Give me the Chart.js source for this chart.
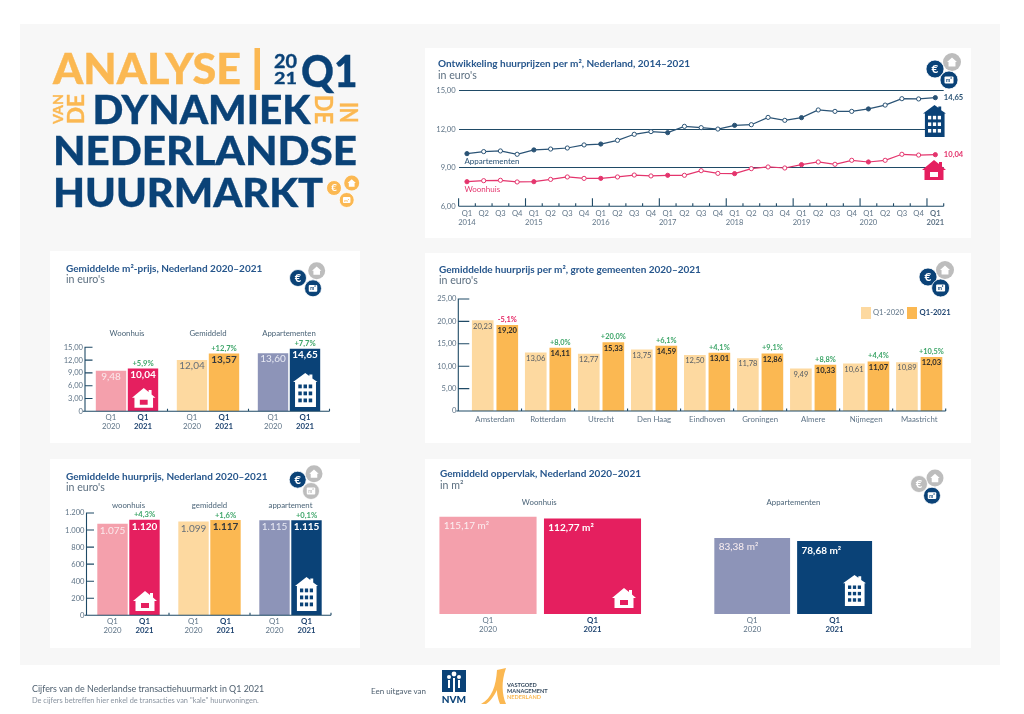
<!DOCTYPE html>
<html lang="nl"><head><meta charset="utf-8"><title>Analyse van de dynamiek in de Nederlandse huurmarkt</title>
<script src="https://cdn.jsdelivr.net/npm/chart.js@4/dist/chart.umd.min.js"></script>
<style>
html,body{margin:0;padding:0;background:#fff;width:1024px;height:714px;overflow:hidden;font-family:Lato,sans-serif}
#page{position:absolute;left:0;top:0;width:1024px;height:714px}
#bg{position:absolute;left:20px;top:24px;width:980px;height:641px;background:#f7f7f7}
.card{position:absolute;background:#fff}
canvas{position:absolute;display:block}
.t{position:absolute;white-space:nowrap;line-height:1}
.title{font-weight:700;font-size:10px;color:#26568c}
.sub{font-size:10.6px;color:#5c6f80}
svg.ic{position:absolute;overflow:visible}
</style></head><body>
<div id="page"><div id="bg"></div></div>
<script>
// ---------- data ----------
const quarterLabels=['Q1','Q2','Q3','Q4','Q1','Q2','Q3','Q4','Q1','Q2','Q3','Q4','Q1','Q2','Q3','Q4','Q1','Q2','Q3','Q4','Q1','Q2','Q3','Q4','Q1','Q2','Q3','Q4','Q1'];
const yearLabels=['2014','2015','2016','2017','2018','2019','2020','2021'];
const apartmentSeries=[10.11,10.27,10.32,10.06,10.40,10.47,10.55,10.79,10.86,11.15,11.62,11.83,11.75,12.24,12.14,12.03,12.32,12.37,12.94,12.71,12.92,13.52,13.41,13.41,13.60,13.90,14.40,14.38,14.48];
const houseSeries=[7.92,8.00,8.03,7.90,7.92,8.10,8.29,8.18,8.18,8.29,8.44,8.37,8.42,8.42,8.78,8.57,8.55,8.94,9.07,8.99,9.25,9.46,9.28,9.59,9.46,9.59,10.06,10.00,10.03];
const lineEndLabels=['14,65','10,04'];

const cityNames=['Amsterdam','Rotterdam','Utrecht','Den Haag','Eindhoven','Groningen','Almere','Nijmegen','Maastricht'];
const city2020=[20.23,13.06,12.77,13.75,12.50,11.78,9.49,10.61,10.89];
const city2021=[19.20,14.11,15.33,14.59,13.01,12.86,10.33,11.07,12.03];
const cityChange=['-5,1%','+8,0%','+20,0%','+6,1%','+4,1%','+9,1%','+8,8%','+4,4%','+10,5%'];

const sqmGroups=['Woonhuis','Gemiddeld','Appartementen'];
const sqm2020=[9.48,12.04,13.60];
const sqm2021=[10.04,13.57,14.65];
const sqmChange=['+5,9%','+12,7%','+7,7%'];

const rentGroups=['woonhuis','gemiddeld','appartement'];
const rent2020=[1075,1099,1115];
const rent2021=[1120,1117,1115];
const rentChange=['+4,3%','+1,6%','+0,1%'];

const areaGroups=['Woonhuis','Appartementen'];
const areaValues=[115.17,112.77,83.38,78.68];

// ---------- styling (not data) ----------
const C={navy:'#0a4277',red:'#e51f5f',gold:'#fbb852',pink:'#f4a0ac',tan:'#fdd9a0',lav:'#8d94b8',axis:'#1f4a66',tick:'#5f7487',line:'#2a5375',green:'#3fa66a',txt:'#4b6478',bold:'#1f4470'};
const F='Lato, sans-serif';
const page=document.getElementById('page');
const cards={line:[425,48,546,190],city:[425,253,546,190],sqm:[50,251,310,192],rent:[50,459,310,189],area:[425,459,546,189]};
function el(tag,cls,css,html){const e=document.createElement(tag);if(cls)e.className=cls;e.style.cssText=css||'';if(html!=null)e.innerHTML=html;page.appendChild(e);return e;}
function text(x,y,cls,s,extra){return el('div','t '+cls,`left:${x}px;top:${y}px;${extra||''}`,s);}
Object.values(cards).forEach(c=>el('div','card',`left:${c[0]}px;top:${c[1]}px;width:${c[2]}px;height:${c[3]}px`));

const HOUSE=(fg,w,x,y)=>`<svg class="ic" style="left:${x}px;top:${y}px" width="${w}" height="${w*0.84}" viewBox="0 0 24 20"><path fill="${fg}" fill-rule="evenodd" d="M12 0 L17 4 V2 H20 V6.5 L24 10 H21.5 V20 H2.5 V10 H0 Z M8 12 V17 H16 V12 Z"/></svg>`;
const APT=(fg,bg,w,h,x,y)=>{let win='';for(let r=0;r<3;r++)for(let c=0;c<3;c++)win+=`<rect x="${5.2+c*5.1}" y="${11.5+r*7}" width="3.4" height="3.8" fill="${bg}"/>`;
return `<svg class="ic" style="left:${x}px;top:${y}px" width="${w}" height="${h}" viewBox="0 0 24 34" preserveAspectRatio="none"><path fill="${fg}" d="M12 0 L16 3 V1.5 H19 V5.5 L24 9 H22.5 V34 H2 V9 H0 Z"/>${win}</svg>`;};
function cluster(e,h,m,r,ce,ch,cm){
 const house=`<svg class="ic" style="left:0;top:0" width="1024" height="714">
 <circle cx="${h[0]}" cy="${h[1]}" r="${r}" fill="${ch}"/><path transform="translate(${h[0]-r*.55},${h[1]-r*.5}) scale(${r*.055})" fill="#fff" d="M10 0 L20 9 H17 V18 H3 V9 H0 Z"/>
 <circle cx="${e[0]}" cy="${e[1]}" r="${r}" fill="${ce}" stroke="#fff" stroke-width=".8"/><text x="${e[0]}" y="${e[1]+r*.45}" text-anchor="middle" font-family="${F}" font-weight="700" font-size="${r*1.3}" fill="#fff">€</text>
 <circle cx="${m[0]}" cy="${m[1]}" r="${r}" fill="${cm}" stroke="#fff" stroke-width=".8"/><rect x="${m[0]-r*.5}" y="${m[1]-r*.4}" width="${r}" height="${r*.8}" rx="1" fill="#fff"/><text x="${m[0]}" y="${m[1]+r*.25}" text-anchor="middle" font-family="${F}" font-weight="700" font-size="${r*.55}" fill="${cm}">m²</text></svg>`;
 el('div','','position:absolute;left:0;top:0',house);
}
const fmt=v=>v===0?'0':v.toFixed(2).replace('.',',');
const fmtK=v=>v===0?'0':String(v).replace(/\B(?=(\d{3})+$)/g,'.');

// ---------- plugins ----------
const frame={id:'frame',afterDatasetsDraw(ch,a,o){
 const g=ch.ctx,A=ch.chartArea,X=ch.scales.x,Y=ch.scales.y;g.save();g.strokeStyle=C.axis;g.lineWidth=1.1;
 const ax=A.left-(o.axisOffset||0);
 g.beginPath();g.moveTo(ax,A.bottom);g.lineTo(A.right+(o.rightExtra||0),A.bottom);
 if(o.yLine){g.moveTo(ax,A.top-.5);g.lineTo(ax,A.bottom);
  Y.ticks.forEach(t=>{const y=Y.getPixelForValue(t.value);g.moveTo(ax-(t.value===0?2:0),y);g.lineTo(ax+o.yTick,y);});}
 const n=X.ticks.length,step=(A.right-A.left)/n;
 for(let i=0;i<=n;i++){if(o.skipEnds&&(i===0))continue;const x=A.left+i*step,h=o.tallEvery&&i%o.tallEvery===0?o.tallH:o.xTick;g.moveTo(x,A.bottom);g.lineTo(x,A.bottom-h);}
 g.stroke();g.restore();}};
const barText={id:'barText',afterDatasetsDraw(ch,a,o){
 const g=ch.ctx,X=ch.scales.x;g.save();g.textAlign='center';g.textBaseline='middle';
 ch.data.datasets.forEach((ds,d)=>{const meta=ch.getDatasetMeta(d);meta.data.forEach((b,i)=>{
  const bold=d===1;
  if(o.value){g.font=(bold?'700 ':'400 ')+o.value.size+'px '+F;g.fillStyle=o.value.colors[d][i]||o.value.colors[d][0];g.fillText(o.value.fmt(ds.data[i]),b.x,b.y+o.value.dy);}
  if(bold&&o.change){const s=o.change.text[i];g.font='700 '+o.change.size+'px '+F;g.fillStyle=s[0]==='-'?C.red:C.green;g.fillText(s,b.x,b.y-o.change.dy);}
  if(o.below){const y=ch.chartArea.bottom+o.below.dy;g.fillStyle=bold?C.bold:C.tick;g.font=(bold?'700 ':'400 ')+o.below.size+'px '+F;g.fillText('Q1',b.x,y);g.fillText(d===1?'2021':'2020',b.x,y+o.below.lh);}
 });});
 if(o.groups){g.fillStyle=C.txt;g.font='400 '+o.groups.size+'px '+F;X.ticks.forEach((t,i)=>g.fillText(t.label,X.getPixelForValue(i),o.groups.y));}
 g.restore();}};
const lineText={id:'lineText',afterDatasetsDraw(ch,a,o){
 const g=ch.ctx;g.save();g.textBaseline='middle';
 ch.data.datasets.forEach((ds,d)=>{const pts=ch.getDatasetMeta(d).data,first=pts[0],last=pts[pts.length-1];
  g.fillStyle=ds.borderColor;g.font='400 8px '+F;g.textAlign='left';g.fillText(ds.label,first.x-2.5,first.y+8);
  g.font='700 7.6px '+F;g.fillText(lineEndLabels[d],last.x+8.5,last.y);});
 g.restore();}};

function base(card,plot,bottomAxisH){return {
 responsive:false,animation:false,devicePixelRatio:1,
 layout:{autoPadding:false,padding:{top:plot.top-card[1],right:card[0]+card[2]-plot.right,bottom:bottomAxisH?0:card[1]+card[3]-plot.bottom,left:0}},
 yWidth:plot.left-card[0],xHeight:bottomAxisH?card[1]+card[3]-plot.bottom:0};}
function canvas(card){const c=el('canvas','',`left:${card[0]}px;top:${card[1]}px`);c.width=card[2];c.height=card[3];return c;}
const ticksFont={family:F,size:7.6};

// ---------- line chart ----------
{const card=cards.line,b=base(card,{left:458.6,right:943.7,top:91,bottom:206.3},true);
 let yr=0;const labs=quarterLabels.map((q,i)=>i%4===0?[q,yearLabels[yr++]]:[q]);
 const dot=col=>c=>c.dataIndex%4===0?col:'#fff';
 new Chart(canvas(card),{type:'line',data:{labels:labs,datasets:[
  {label:'Appartementen',data:apartmentSeries,borderColor:C.line,borderWidth:1.2,pointRadius:2.1,pointBorderWidth:1,pointBackgroundColor:dot(C.line),pointBorderColor:C.line,tension:0},
  {label:'Woonhuis',data:houseSeries,borderColor:'#e4356d',borderWidth:1.2,pointRadius:2.1,pointBorderWidth:1,pointBackgroundColor:dot('#e4356d'),pointBorderColor:'#e4356d',tension:0}]},
 plugins:[frame,lineText],
 options:{responsive:false,animation:false,devicePixelRatio:1,layout:b.layout,
  plugins:{legend:{display:false},tooltip:{enabled:false},frame:{xTick:3,tallEvery:4,tallH:8,rightExtra:0}},
  scales:{
   x:{offset:true,grid:{display:false,drawTicks:false,offset:true},border:{display:false},afterFit:s=>{s.height=b.xHeight;},
      ticks:{autoSkip:false,maxRotation:0,minRotation:0,padding:3,color:C.tick,font:c=>({family:F,size:7.6,lineHeight:1.18,weight:c.index===28?'700':'400'})}},
   y:{min:6,max:15,afterFit:s=>{s.width=b.yWidth;},grid:{color:c=>c.tick.value===6?'transparent':C.axis,lineWidth:1.1,drawTicks:false},border:{display:false},
      ticks:{stepSize:3,padding:3,color:C.tick,font:ticksFont,callback:fmt}}}}});
 text(438,58.3,'title','Ontwikkeling huurprijzen per m², Nederland, 2014–2021');
 text(438,69.5,'sub','in euro\'s');
 cluster([935,69],[952,62],[949,80],9,C.navy,'#bdbdbd',C.navy);
 el('div','','',APT(C.navy,'#fff',23,32,923,105));
 el('div','','',HOUSE(C.red,24,922,160));
}
// ---------- city chart ----------
{const card=cards.city,P={left:468.5,right:945.7,top:299,bottom:411},b=base(card,P,true);
 new Chart(canvas(card),{type:'bar',data:{labels:cityNames,datasets:[
  {label:'Q1-2020',data:city2020,backgroundColor:C.tan,categoryPercentage:.926,barPercentage:.882},
  {label:'Q1-2021',data:city2021,backgroundColor:C.gold,categoryPercentage:.926,barPercentage:.882}]},
 plugins:[frame,barText],
 options:{responsive:false,animation:false,devicePixelRatio:1,layout:b.layout,
  plugins:{legend:{display:false},tooltip:{enabled:false},
   frame:{axisOffset:10.2,yLine:true,yTick:11,xTick:2.5,skipEnds:true},
   barText:{value:{size:7.6,dy:5.8,fmt,colors:[['#555c64'],['#2b2b2b']]},change:{size:7.4,dy:5.5,text:cityChange}}},
  scales:{
   x:{grid:{display:false,drawTicks:false},border:{display:false},afterFit:s=>{s.height=b.xHeight;},ticks:{autoSkip:false,maxRotation:0,padding:3.5,color:C.tick,font:{family:F,size:7.8}}},
   y:{min:0,max:25,afterFit:s=>{s.width=b.yWidth;},grid:{display:false,drawTicks:false},border:{display:false},ticks:{stepSize:5,padding:12,color:C.tick,font:ticksFont,callback:fmt}}}}});
 text(439,264,'title','Gemiddelde huurprijs per m², grote gemeenten 2020–2021');
 text(439,274.7,'sub','in euro\'s');
 cluster([928,277],[945,270],[940.6,288],9,C.navy,'#bdbdbd',C.navy);
 el('div','',`position:absolute;left:860.6px;top:307px;width:10px;height:12px;background:${C.tan}`);
 el('div','',`position:absolute;left:907px;top:307px;width:10px;height:12px;background:${C.gold}`);
 text(873,309,'','Q1-2020',`font-size:7.6px;color:${C.tick}`);
 text(919.6,309,'','Q1-2021',`font-size:7.6px;font-weight:700;color:${C.bold}`);
}
// ---------- small bar charts ----------
function small(card,P,groups,d0,d1,change,max,step,yfmt,vfmt,labelY,vDy){
 const b=base(card,P,false);
 new Chart(canvas(card),{type:'bar',data:{labels:groups,datasets:[
  {label:'Q1 2020',data:d0,backgroundColor:[C.pink,C.tan,C.lav],categoryPercentage:.79,barPercentage:.95},
  {label:'Q1 2021',data:d1,backgroundColor:[C.red,C.gold,C.navy],categoryPercentage:.79,barPercentage:.95}]},
 plugins:[frame,barText],
 options:{responsive:false,animation:false,devicePixelRatio:1,layout:b.layout,
  plugins:{legend:{display:false},tooltip:{enabled:false},
   frame:{axisOffset:1.5,yLine:true,yTick:7.5,xTick:2.5,skipEnds:true},
   barText:{value:{size:10,dy:vDy,fmt:vfmt,colors:[['#fbe9ec','#66707a','#e8eaf4'],['#fff','#33383d','#fff']]},
    change:{size:7.6,dy:5,text:change},below:{dy:6.5,lh:9,size:7.8},groups:{size:7.8,y:labelY-card[1]}}},
  scales:{
   x:{display:true,afterFit:s=>{s.height=0;},grid:{display:false,drawTicks:false},border:{display:false},ticks:{display:false,autoSkip:false}},
   y:{min:0,max,afterFit:s=>{s.width=b.yWidth;},grid:{display:false,drawTicks:false},border:{display:false},ticks:{stepSize:step,padding:3.5,color:C.tick,font:ticksFont,callback:yfmt}}}}});
}
small(cards.sqm,{left:86.5,right:329.5,top:347.3,bottom:411.3},sqmGroups,sqm2020,sqm2021,sqmChange,15,3,fmt,fmt,333,6);
small(cards.rent,{left:88,right:331,top:513,bottom:615.3},rentGroups,rent2020,rent2021,rentChange,1200,200,fmtK,fmtK,505,7);
text(66,262.7,'title','Gemiddelde m²-prijs, Nederland 2020–2021');
text(66,274,'sub','in euro\'s');
cluster([298,278],[316.7,270.7],[313,288.3],8.5,C.navy,'#bdbdbd',C.navy);
el('div','','',HOUSE('#fff',23.5,131.7,388));
el('div','','',APT('#fff',C.navy,24.5,34,293,373));
text(66,470.7,'title','Gemiddelde huurprijs, Nederland 2020–2021');
text(66,482,'sub','in euro\'s');
cluster([297.7,479.7],[314,473.7],[311,491],8.5,C.navy,'#bdbdbd','#bdbdbd');
el('div','','',HOUSE('#fff',24,132.7,591));
el('div','','',APT('#fff',C.navy,23,34,295,577));
// ---------- surface squares ----------
{const card=cards.area,P={left:425,right:971,top:514,bottom:614},b=base(card,P,false);
 const squareCentres=[63,167.5,327.2,409.6],squareWidths=[96.5,96.4,75.1,74.3];
 const cols=[C.pink,C.red,C.lav,C.navy];
 const sets=areaValues.map((v,i)=>({label:'Q1 '+(i%2?'2021':'2020'),data:[{x:squareCentres[i],y:v}],backgroundColor:cols[i],barThickness:squareWidths[i],base:-30.9,grouped:false}));
 const areaText={id:'areaText',afterDatasetsDraw(ch){const g=ch.ctx;g.save();
  ch.data.datasets.forEach((ds,d)=>{const e=ch.getDatasetMeta(d).data[0],bold=d%2===1,L=e.x-e.width/2;
   g.textAlign='left';g.textBaseline='middle';g.font=(bold?'700 ':'400 ')+'10px '+F;g.fillStyle=bold?'#fff':'#fbeff1';
   g.fillText(areaValues[d].toFixed(2).replace('.',',')+' m²',L+4,e.y+9);
   const y=ch.chartArea.bottom+6.5;g.textAlign='center';g.fillStyle=bold?C.bold:C.tick;g.font=(bold?'700 ':'400 ')+'7.8px '+F;g.fillText('Q1',e.x,y);g.fillText(bold?'2021':'2020',e.x,y+9);});
  g.fillStyle=C.txt;g.font='400 7.8px '+F;g.textAlign='center';g.textBaseline='middle';
  areaGroups.forEach((s,i)=>{const a=ch.getDatasetMeta(i*2).data[0],c=ch.getDatasetMeta(i*2+1).data[0];g.fillText(s,(a.x+c.x)/2+(i?0:-1),502-card[1]);});
  g.restore();}};
 new Chart(canvas(card),{type:'bar',data:{datasets:sets},plugins:[areaText],
 options:{responsive:false,animation:false,devicePixelRatio:1,layout:b.layout,
  plugins:{legend:{display:false},tooltip:{enabled:false}},
  scales:{x:{type:'linear',offset:false,min:0,max:546,display:false},y:{min:-30.9,max:120,display:false}}}});
 text(440,468,'title','Gemiddeld oppervlak, Nederland 2020–2021');
 text(440,479.5,'sub','in m²');
 cluster([919,484],[935,478],[932,495.7],8.5,'#bdbdbd','#bdbdbd',C.navy);
 el('div','','',HOUSE('#fff',24,611.6,588));
 el('div','','',APT('#fff',C.navy,23,31,843,574.7));
}
// ---------- heading logo ----------
const tx=(s,x,y,len,size,fill,tr,w)=>`<text ${tr?`transform="${tr}"`:`x="${x}" y="${y}"`} textLength="${len}" lengthAdjust="spacingAndGlyphs" font-family="Lato" font-weight="${w||900}" font-size="${size}" fill="${fill}" stroke="${fill}" stroke-width=".35">${s}</text>`;
el('div','','position:absolute;left:0;top:0',`<svg class="ic" style="left:0;top:0" width="1024" height="714">
${tx('ANALYSE',53,84,188,41.5,C.gold)}
<rect x="254.5" y="48" width="5.5" height="42" fill="${C.gold}"/>
${tx('20',274,68,23,18,C.navy,'',700)}${tx('21',274,84,23,17,C.navy,'',700)}
${tx('Q1',301,86.5,56.5,44.5,C.navy)}
${tx('VAN',0,0,30,14,C.gold,'translate(63,124) rotate(-90)',700)}
${tx('DE',0,0,30,22,C.gold,'translate(84,124) rotate(-90)',700)}
${tx('DYNAMIEK',92.5,124,218,40,C.navy)}
${tx('DE',0,0,29,25,C.gold,'translate(315,95) rotate(90)',700)}
${tx('IN',0,0,21,25,C.gold,'translate(340,102) rotate(90)',700)}
${tx('NEDERLANDSE',53,165,304,40,C.navy)}
${tx('HUURMARKT',53,207,270,40,C.navy)}</svg>`);
cluster([334,188],[351.7,183],[346.7,200],7.5,C.gold,C.gold,C.gold);
// ---------- footer ----------
text(32,684.5,'','Cijfers van de Nederlandse transactiehuurmarkt in Q1 2021','font-size:8.9px;color:#4f6070');
text(32,697,'','De cijfers betreffen hier enkel de transacties van "kale" huurwoningen.','font-size:7.4px;color:#8a94a0');
text(371,687,'','Een uitgave van','font-size:8px;color:#4f6070');
el('div','','position:absolute;left:0;top:0',`<svg class="ic" style="left:0;top:0" width="1024" height="714">
<rect x="442" y="670" width="24" height="22" fill="${C.navy}"/>
<circle cx="454" cy="674" r="2.4" fill="#fff"/><circle cx="449" cy="677" r="2" fill="#fff"/><circle cx="459" cy="677" r="2" fill="#fff"/>
<rect x="453" y="678" width="2" height="14" fill="#fff"/><rect x="448" y="680" width="2" height="8" fill="#fff"/><rect x="458" y="680" width="2" height="8" fill="#fff"/>
<text x="454" y="703" text-anchor="middle" font-family="${F}" font-weight="900" font-size="10" fill="${C.navy}">NVM</text>
<path d="M481 704 C492 698 496 686 497 670 L506 668 C501 682 502 694 506 704 L500 704 C497 696 497 692 497 690 C494 696 490 702 486 704 Z" fill="${C.gold}"/>
<text x="507" y="687" font-family="${F}" font-weight="700" font-size="5.6" fill="#34495e">VASTGOED</text>
<text x="507" y="693" font-family="${F}" font-weight="700" font-size="5.6" fill="#34495e">MANAGEMENT</text>
<text x="507" y="699" font-family="${F}" font-weight="700" font-size="5.6" fill="${C.gold}">NEDERLAND</text></svg>`);
</script></body></html>
